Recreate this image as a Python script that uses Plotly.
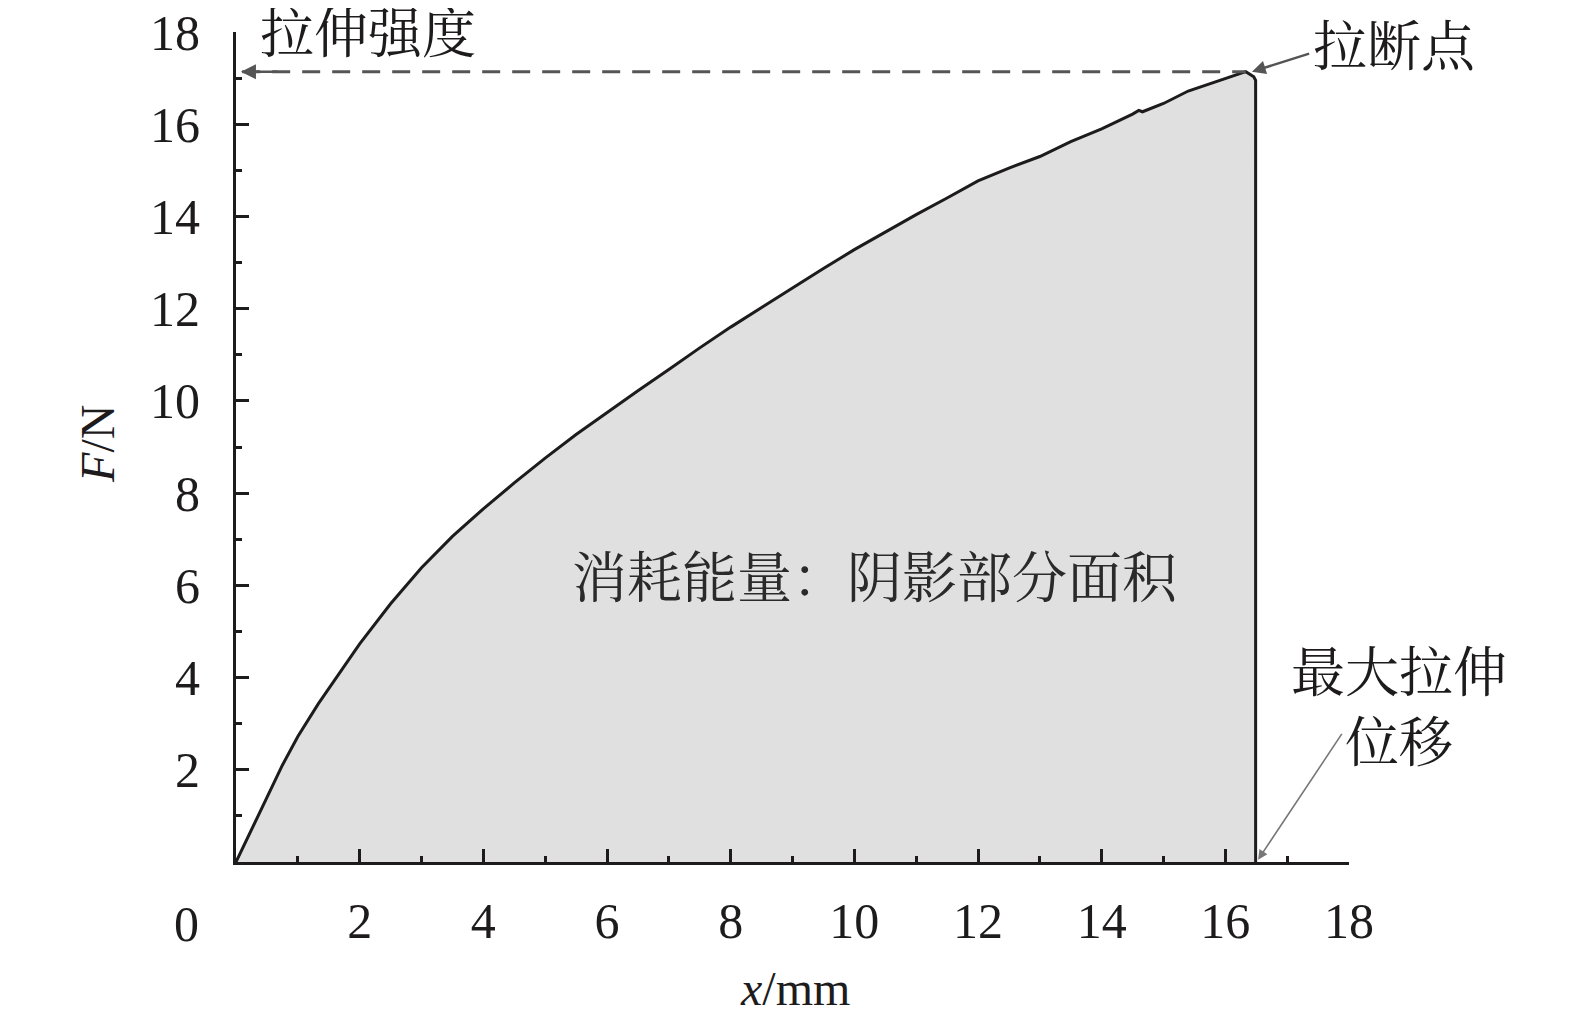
import plotly.graph_objects as go

# Force-displacement curve (x in mm, F in N)
disp_mm = [0.0, 0.25, 0.5, 0.75, 1.0, 1.33, 1.5, 2.0, 2.5, 3.0, 3.5, 4.0, 4.5,
           5.0, 5.5, 6.0, 6.5, 7.0, 7.5, 8.0, 8.5, 9.0, 9.5, 10.0, 10.5, 11.0,
           11.5, 12.0, 12.5, 13.0, 13.5, 14.0, 14.5, 14.6, 14.66, 15.0, 15.4,
           15.84, 16.1, 16.33, 16.46, 16.49, 16.49]
force_N = [0.0, 0.70, 1.42, 2.10, 2.72, 3.43, 3.76, 4.73, 5.60, 6.38, 7.06, 7.66,
           8.22, 8.76, 9.27, 9.75, 10.22, 10.68, 11.15, 11.60, 12.03, 12.45, 12.87,
           13.28, 13.66, 14.04, 14.40, 14.77, 15.05, 15.30, 15.62, 15.90, 16.22,
           16.30, 16.27, 16.45, 16.72, 16.92, 17.03, 17.14, 17.03, 16.95, 0.0]

tensile_strength = 17.14
peak_x = 16.33
max_disp = 16.49

tick_vals = [2, 4, 6, 8, 10, 12, 14, 16, 18]
tick_text = ["2", "4", "6", "8", "10", "12", "14", "16", "18"]
minor_vals = [1, 3, 5, 7, 9, 11, 13, 15, 17]

FONT = "Liberation Serif, Noto Serif CJK SC, Noto Sans CJK SC, serif"
INK = "#1d1b1c"

fig = go.Figure()

fig.add_trace(go.Scatter(
    x=disp_mm, y=force_N, mode="lines", fill="tozeroy",
    fillcolor="#e0e0e0", line=dict(color=INK, width=3),
    showlegend=False, hoverinfo="skip"))

fig.add_trace(go.Scatter(
    x=[0.1, peak_x], y=[tensile_strength, tensile_strength], mode="lines",
    line=dict(color="#555555", width=3, dash="18px,12px"),
    showlegend=False, hoverinfo="skip"))

axis_common = dict(
    range=[0, 18], showgrid=False, zeroline=False, showline=True,
    linewidth=3, linecolor=INK, ticks="inside", ticklen=13, tickwidth=3,
    tickcolor=INK, tickvals=tick_vals, ticktext=tick_text, automargin=False,
    ticklabeloverflow="allow",
    tickfont=dict(family=FONT, size=50, color=INK),
    minor=dict(ticks="inside", ticklen=6, tickwidth=3, tickcolor=INK,
               tickvals=minor_vals),
)

fig.update_xaxes(**axis_common, ticklabelstandoff=13)
fig.update_yaxes(**axis_common, ticklabelstandoff=23)

def txt(x, y, s, size=54, color=INK, ref="paper", **kw):
    return dict(x=x, y=y, xref=ref, yref=ref, text=s, showarrow=False,
                xanchor="center", yanchor="middle",
                font=dict(family=FONT, size=size, color=color), **kw)

ann = [
    txt(2.13, 17.93, "拉伸强度", ref="x") | dict(yref="y"),
    dict(x=0.08, y=tensile_strength, xref="x", yref="y", ax=0.7, ay=tensile_strength,
         axref="x", ayref="y", text="", showarrow=True, arrowhead=2,
         arrowsize=1.2, arrowwidth=2.5, arrowcolor="#555555"),
    txt(1.0406, 0.9806, "拉断点"),
    dict(x=peak_x + 0.1, y=tensile_strength, xref="x", yref="y",
         ax=17.38, ay=17.54, axref="x", ayref="y", text="", showarrow=True,
         arrowhead=2, arrowsize=1.1, arrowwidth=2.5, arrowcolor="#555555"),
    txt(1.0451, 0.1842, "最大拉伸<br>位移", align="center"),
    dict(x=max_disp + 0.04, y=0.05, xref="x", yref="y", ax=17.9, ay=2.81,
         axref="x", ayref="y", text="", showarrow=True, arrowhead=2,
         arrowsize=1.2, arrowwidth=1.6, arrowcolor="#777777"),
    txt(10.34, 6.15, "消耗能量：阴影部分面积", size=55, color="#2a2a2a", ref="x") | dict(yref="y"),
    txt(-0.0442, -0.0752, "0", size=50),
    txt(-0.1245, 0.5042, "<i>F</i>/N", size=48, textangle=-90),
    txt(0.5018, -0.152, "<i>x</i>/mm", size=48),
]

fig.update_layout(
    width=1575, height=1024,
    margin=dict(l=228, r=234, t=24, b=170, pad=0),
    paper_bgcolor="white", plot_bgcolor="white",
    annotations=ann, showlegend=False,
)

fig.write_html("out.html")
